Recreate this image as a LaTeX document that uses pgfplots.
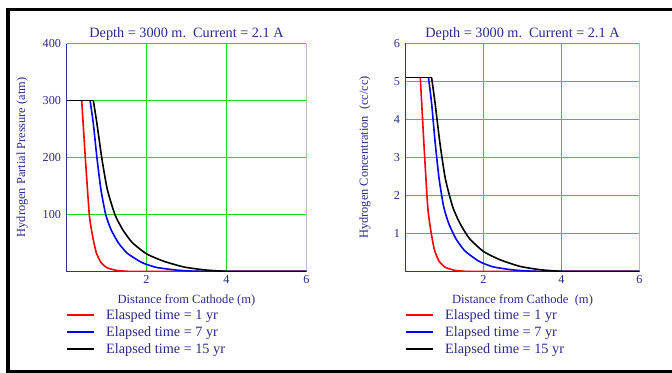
\documentclass[border=0pt]{standalone}
\usepackage{pgfplots}
\pgfplotsset{compat=1.18}
\usepackage{fontspec}
\setmainfont{Liberation Serif}
\definecolor{txtblue}{RGB}{40,40,140}
\definecolor{axblue}{RGB}{50,50,150}
\definecolor{gridgreen}{RGB}{20,225,20}
\begin{document}
\begin{tikzpicture}
\useasboundingbox (0bp,0bp) rectangle (672bp,373bp);
\fill[white] (0bp,0bp) rectangle (672bp,373bp);
\draw[black,line width=4bp] (8bp,365bp) -- (8bp,0bp);
\draw[black,line width=3.5bp] (6bp,363.25bp) -- (680bp,363.25bp);
\draw[black,line width=2bp] (6bp,1.5bp) -- (680bp,1.5bp);
\pgfplotsset{
  myaxis/.style={
    scale only axis,
    height=228bp,
    xmin=0,xmax=6,
    xtick={2,4,6},
    major tick length=0pt,
    axis x line*=bottom,
    axis y line*=left,
    axis line style={draw=axblue,line width=1bp},
    tick label style={font=\fontsize{12.2}{14}\selectfont,color=txtblue},
    yticklabel style={xshift=-2bp},
    title style={at={(0.5,1)},anchor=base,yshift=0.5bp,font=\fontsize{14.3}{16}\selectfont,color=txtblue},
    xlabel style={at={(0.5,0)},anchor=base,yshift=-31.5bp,font=\fontsize{12.6}{14}\selectfont,color=txtblue},
    ylabel style={anchor=center,font=\fontsize{12.4}{14}\selectfont,color=txtblue},
    legend cell align=left,
    legend style={at={(0,0)},anchor=north west,yshift=-38bp,xshift=-0.5bp,draw=none,fill=none,inner sep=0pt,
      font=\fontsize{14.3}{16}\selectfont,row sep=5.5bp,
      nodes={inner sep=0pt,text height=10bp,text depth=1.5bp,color=txtblue}},
    every axis plot/.append style={line width=1.6bp,smooth,tension=0.35},
    /pgf/number format/assume math mode=true,
  }
}
\begin{axis}[myaxis,at={(66.5bp,101.5bp)},anchor=south west,width=240bp,
  ymin=0,ymax=400,ytick={100,200,300,400},
  title={Depth = 3000 m.\ \ Current = 2.1 A},
  xlabel={Distance from Cathode (m)},
  ylabel={Hydrogen Partial Pressure (atm)},
  ylabel style={at={(axis description cs:-0.185,0.5)}},
  legend style={/tikz/every odd column/.append style={column sep=11bp}},
  legend image code/.code={\draw[#1,line width=2bp] (0bp,0bp) -- (27bp,0bp);}]
\draw[color=gridgreen,line width=1.1bp] (axis cs:2,0) -- (axis cs:2,400) (axis cs:4,0) -- (axis cs:4,400)
  (axis cs:0,100) -- (axis cs:6,100) (axis cs:0,200) -- (axis cs:6,200) (axis cs:0,300) -- (axis cs:6,300) (axis cs:0,400) -- (axis cs:6,400);
\draw[color=axblue,line width=1bp] (rel axis cs:1,0) -- (rel axis cs:1,1);
\addplot[red] coordinates {(0.38,300) (0.47,200) (0.57,100) (0.65,63) (0.74,34) (0.86,16) (1.02,6.4) (1.27,1.7) (1.52,0.4) (1.8,0) (6,0)};
\addlegendentry{Elasped time = 1 yr}
\addplot[blue] coordinates {(0.59,300) (0.67,260) (0.76,200) (0.86,144) (0.98,100) (1.11,74) (1.29,51) (1.52,32) (1.85,17) (2.0,12.5) (2.26,7) (2.68,3) (3.0,1.2) (3.4,0.2) (3.7,0) (6,0)};
\addlegendentry{Elapsed time = 7 yr}
\addplot[black] coordinates {(0.67,300) (0.76,260) (0.88,200) (1.02,144) (1.21,100) (1.40,74) (1.64,51) (2.0,31) (2.43,18) (2.93,8) (3.42,3) (3.8,1) (4.2,0) (6,0)};
\addlegendentry{Elapsed time = 15 yr}
\addplot[black,sharp plot,forget plot] coordinates {(0,300) (0.67,300)};
\end{axis}
\begin{axis}[myaxis,at={(405.5bp,101.5bp)},anchor=south west,width=234bp,
  ymin=0,ymax=6,ytick={1,2,3,4,5,6},
  title={Depth = 3000 m.\ \ Current = 2.1 A},
  xlabel={Distance from Cathode\ \ (m)},
  ylabel={Hydrogen Concentration\ \ (cc/cc)},
  ylabel style={at={(axis description cs:-0.173,0.5)}},
  legend style={/tikz/every odd column/.append style={column sep=11bp}},
  legend image code/.code={\draw[#1,line width=2bp] (0bp,0bp) -- (27bp,0bp);}]
\draw[color=gridgreen,line width=1.1bp] (axis cs:2,0) -- (axis cs:2,6) (axis cs:4,0) -- (axis cs:4,6)
  (axis cs:0,1) -- (axis cs:6,1) (axis cs:0,2) -- (axis cs:6,2) (axis cs:0,3) -- (axis cs:6,3)
  (axis cs:0,4) -- (axis cs:6,4) (axis cs:0,5) -- (axis cs:6,5) (axis cs:0,6) -- (axis cs:6,6);
\draw[color=axblue,line width=1bp] (rel axis cs:1,0) -- (rel axis cs:1,1);
\addplot[red] coordinates {(0.38,5.1) (0.47,3.4) (0.57,1.7) (0.65,1.07) (0.74,0.578) (0.86,0.272) (1.02,0.109) (1.27,0.029) (1.52,0.007) (1.8,0) (6,0)};
\addlegendentry{Elasped time = 1 yr}
\addplot[blue] coordinates {(0.59,5.1) (0.67,4.42) (0.76,3.4) (0.86,2.45) (0.98,1.7) (1.11,1.26) (1.29,0.867) (1.52,0.544) (1.85,0.289) (2.0,0.2125) (2.26,0.119) (2.68,0.051) (3.0,0.0204) (3.4,0.0034) (3.7,0) (6,0)};
\addlegendentry{Elapsed time = 7 yr}
\addplot[black] coordinates {(0.67,5.1) (0.76,4.42) (0.88,3.4) (1.02,2.45) (1.21,1.7) (1.40,1.26) (1.64,0.867) (2.0,0.527) (2.43,0.306) (2.93,0.136) (3.42,0.051) (3.8,0.017) (4.2,0) (6,0)};
\addlegendentry{Elapsed time = 15 yr}
\addplot[black,sharp plot,forget plot] coordinates {(0,5.1) (0.67,5.1)};
\end{axis}
\end{tikzpicture}
\end{document}
